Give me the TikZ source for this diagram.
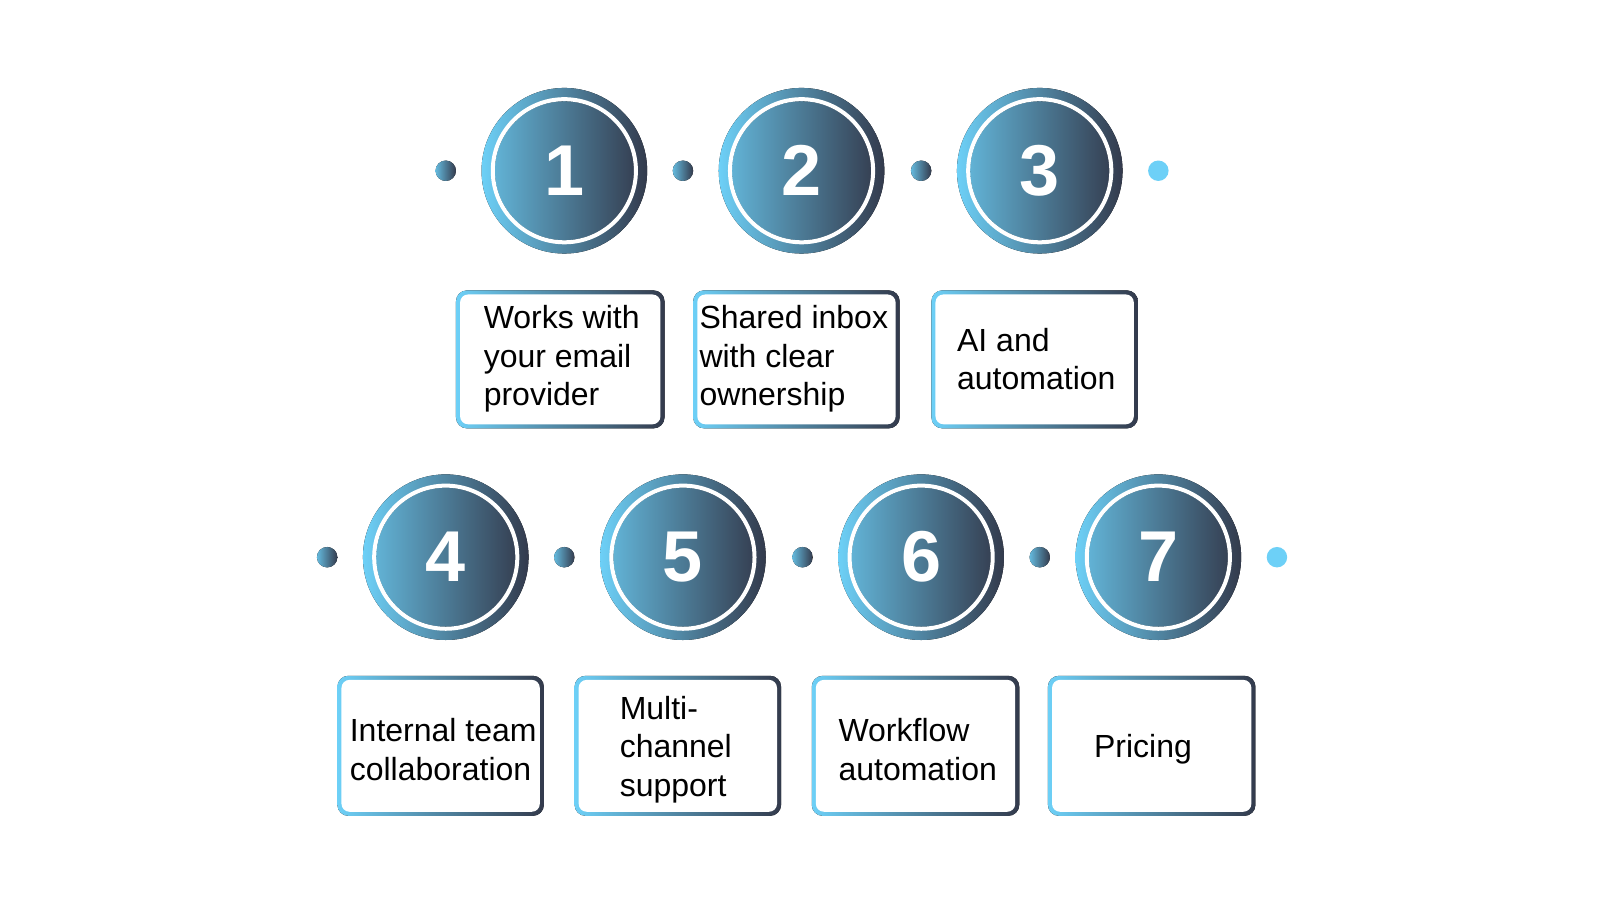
\documentclass[tikz,border=0pt]{standalone}
\usepackage{fontspec}
\setmainfont{Liberation Sans}
\begin{document}
\begin{tikzpicture}[x=1.0224pt,y=-1.0224pt,
  lt/.style={font=\fontsize{32}{38.5}\selectfont, align=left, anchor=west, inner sep=0pt},
  num/.style={font=\fontsize{72}{76}\selectfont\bfseries, text=white}]
\definecolor{cl}{HTML}{6DD0F7}
\definecolor{cd}{HTML}{333A4C}
\useasboundingbox (0,0) rectangle (1565,880.3);
\fill[white] (0,0) rectangle (1565,880.3);
\newcommand{\badge}[4]{%
  \fill[left color=cl,right color=cd] (#1,#2) circle (81);
  \fill[left color=cl!80!cd,right color=cd!95!cl] (#1,#2) circle (68);
  \draw[white,line width=4] (#1,#2) circle (70);
  \node[num] (#4) at (#1,#2) {#3};}
\newcommand{\dotc}[3]{\fill[left color=cl!85!cd,right color=cd] (#1,#2) circle (10);\coordinate (#3) at (#1,#2);}
% row 1
\dotc{436}{167}{d1}\dotc{668}{167}{d2}\dotc{901}{167}{d3}
\fill[cl] (1133,167) circle (10); \coordinate (d4) at (1133,167);
\badge{552}{167}{1}{c1}\badge{784}{167}{2}{c2}\badge{1017}{167}{3}{c3}
% row 2
\dotc{320}{545}{e1}\dotc{552}{545}{e2}\dotc{785}{545}{e3}\dotc{1017}{545}{e4}
\fill[cl] (1249,545) circle (10); \coordinate (e5) at (1249,545);
\badge{436}{545}{4}{c4}\badge{668}{545}{5}{c5}\badge{901}{545}{6}{c6}\badge{1133}{545}{7}{c7}
% boxes
\newcommand{\bx}[4]{%
  \fill[rounded corners=11, left color=cl, right color=cd] (#1,#2) rectangle (#3,#4);
  \fill[white,rounded corners=8] (#1+4,#2+4) rectangle (#3-4,#4-4);}
\bx{446}{284}{650}{419}\bx{678}{284}{880}{419}\bx{911}{284}{1113}{419}
\bx{330}{661}{532}{798}\bx{562}{661}{764}{798}\bx{794}{661}{997}{798}\bx{1025}{661}{1228}{798}
\node[lt] (t1) at (473,351) {Works with\\your email\\provider};
\node[lt] (t2) at (684,351) {Shared inbox\\with clear\\ownership};
\node[lt] (t3) at (936,351) {AI and\\automation};
\node[lt] (t4) at (342,733) {Internal team\\collaboration};
\node[lt] (t5) at (606,733) {Multi-\\channel\\support};
\node[lt] (t6) at (820,733) {Workflow\\automation};
\node[lt] (t7) at (1070,733) {Pricing};
\end{tikzpicture}
\end{document}
